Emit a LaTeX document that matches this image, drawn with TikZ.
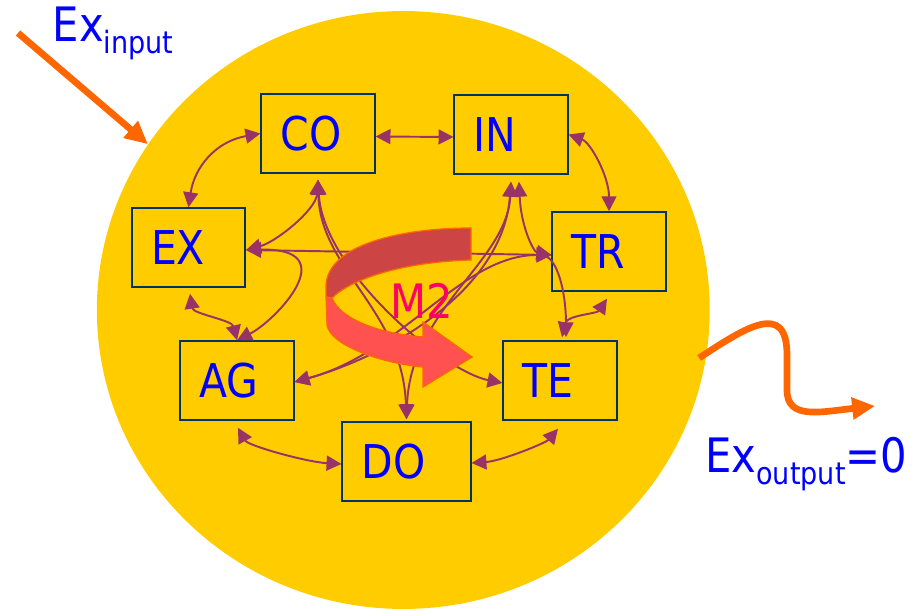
\documentclass[tikz,border=0pt]{standalone}
\usepackage{fontspec}
\setmainfont{DejaVu Sans}[FakeStretch=0.88]
\usepackage{xcolor}
\usepackage{tikz}
\usetikzlibrary{arrows.meta,shapes.geometric,calc}

\definecolor{sunny}{RGB}{255,204,0}
\definecolor{boxline}{RGB}{0,51,102}
\definecolor{textblue}{RGB}{0,0,255}
\definecolor{linkcol}{RGB}{153,51,102}
\definecolor{flowcol}{RGB}{255,102,0}
\definecolor{mtwocol}{RGB}{255,0,102}
\definecolor{ribback}{RGB}{204,68,68}
\definecolor{ribfront}{RGB}{255,82,80}

\newcommand{\sublbl}[1]{\raisebox{-7pt}{\fontsize{17.5}{18}\selectfont #1}}

\begin{document}
\begin{tikzpicture}[
  x=0.02cm, y=-0.02cm,
  box/.style={draw=boxline,line width=0.9pt,text=textblue,font=\fontsize{26.5}{28}\selectfont,
              text width=42.6pt,inner xsep=11pt,inner ysep=0pt,minimum height=1.58cm,align=left},
  link/.style={draw=linkcol,line width=1.1pt,>={Triangle[length=8.5pt,width=8.5pt]},<->},
  flow/.style={draw=flowcol,line width=3.8pt,-{Triangle[length=13pt,width=12pt]}},
  exlabel/.style={inner sep=0pt,anchor=base west,text=textblue,font=\fontsize{27}{30}\selectfont},
  band/.style={draw=flowcol,line width=0.7pt}
]
\useasboundingbox (0,0) rectangle (913,611);
\node[ellipse,fill=sunny,minimum width=12.26cm,minimum height=11.96cm,inner sep=0pt] (sys) at (403.3,310) {};

\node[box] (co) at (318,133.5) {CO};
\node[box] (in) at (511,134.5) {IN};
\node[box] (ex) at (188.5,247.5) {EX};
\node[box] (tr) at (609,251.5) {TR};
\node[box] (ag) at (237,380.5) {AG};
\node[box,text width=51.1pt] (do) at (406.5,461.5) {DO};
\node[box] (te) at (560,380.5) {TE};

\draw[link] ($(co.east)+(0,3)$) -- ($(in.west)+(0,2.5)$);
\draw[link] (co.west) .. controls +(-45,8) and +(6,-40) .. (ex.north);
\draw[link] (in.east) .. controls +(22,8) and +(0,-35) .. (tr.north);
\draw[link] ($(ex.south)+(1.5,6)$) .. controls +(3,20) and +(-5,-20) .. (ag.north);
\draw[link] ($(ex.east)+(0,2.5)$) .. controls +(100,-2.5) and +(38,-19) .. (ag.north);
\draw[link] ($(co.south)+(0,6)$) .. controls +(-2,30) and +(30,-8) .. ($(ex.east)+(0,2.5)$);
\draw[link] ($(ex.east)+(0,2.5)$) -- ($(tr.west)+(0,3.5)$);
\draw[link] ($(in.south)+(8,7)$) .. controls +(2,45) and +(-18,-3) .. ($(tr.west)+(0,3.5)$);
\draw[link,->] ($(tr.west)+(-5,5)$) .. controls +(13,7) and +(0,-40) .. ($(te.north)+(6,-3)$);
\draw[link] ($(tr.south)+(-2,7)$) .. controls +(-10,15) and +(5,-22) .. ($(te.north)+(2,-3)$);
\draw[link] ($(ag.south)+(1,7)$) .. controls +(10,18) and +(-35,-2) .. ($(do.west)+(0,2.5)$);
\draw[link] ($(do.east)+(0,1.5)$) .. controls +(30,-2) and +(-12,14) .. ($(te.south)+(-2,8)$);
\draw[link] ($(co.south)+(0,6)$) .. controls +(2,90) and +(-4,-110) .. ($(do.north)+(0,-2)$);
\draw[link] ($(co.south)+(0,6)$) .. controls +(5,90) and +(-60,-12) .. ($(te.west)+(0,2.5)$);
\draw[link] ($(in.south)+(0,7)$) .. controls +(-4,80) and +(4,-110) .. ($(do.north)+(0,-2)$);
\draw[link] ($(in.south)+(0,7)$) .. controls +(-8,110) and +(90,-25) .. ($(ag.east)+(0,1.5)$);
\draw[link] ($(tr.west)+(0,3.5)$) .. controls +(-90,0) and +(110,-30) .. ($(ag.east)+(0,1.5)$);

\filldraw[band,fill=ribback] (471,228) .. controls (400,228) and (328,245) .. (326,285) -- (326,297)
  -- (332,298) .. controls (350,280) and (400,262) .. (471,260) -- cycle;
\filldraw[band,fill=ribfront] (326,297) -- (327,325) .. controls (330,345) and (380,363) .. (423,367)
  -- (423,387) -- (472,357) -- (423,322) -- (423,337) .. controls (375,333) and (340,318) .. (332,298) -- cycle;
\node[inner sep=0pt,anchor=base west,text=mtwocol,font=\fontsize{27}{30}\selectfont] (mtwo) at (390,318) {M2};

\coordinate (inTail) at (18,33);
\coordinate (outHead) at (875,406);
\draw[flow] (inTail) -- (sys.147.4);
\draw[flow] ([xshift=-4pt]sys.-9) .. controls (745,328) and (787,300) .. (787,355) -- (787,390)
  .. controls (787,420) and (820,412) .. (outHead);

\node[exlabel] (exin) at (52.5,41.7) {Ex\sublbl{input}};
\node[exlabel] (exout) at (705,472) {Ex\sublbl{output}=0};
\end{tikzpicture}
\end{document}
